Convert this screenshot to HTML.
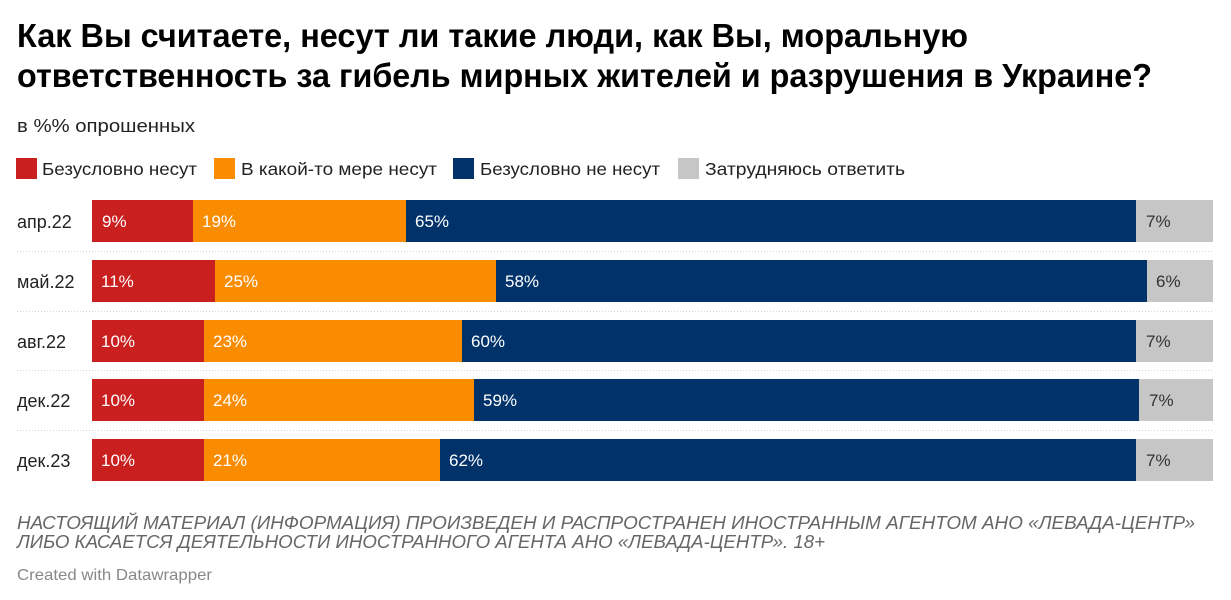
<!DOCTYPE html>
<html><head><meta charset="utf-8"><style>
html,body{margin:0;padding:0;background:#fff;}
svg{display:block;}
text{font-family:"Liberation Sans","Noto Sans CJK SC",sans-serif;}
</style></head><body>
<svg width="1231" height="600" viewBox="0 0 1231 600" xmlns="http://www.w3.org/2000/svg">
<rect width="1231" height="600" fill="#fff"/>
<text x="17" y="47" font-size="33" font-weight="bold" fill="#000" textLength="951" lengthAdjust="spacingAndGlyphs">Как Вы считаете, несут ли такие люди, как Вы, моральную</text>
<text x="17" y="87" font-size="33" font-weight="bold" fill="#000" textLength="1135" lengthAdjust="spacingAndGlyphs">ответственность за гибель мирных жителей и разрушения в Украине?</text>
<text x="17" y="132" font-size="18" fill="#222" textLength="178" lengthAdjust="spacingAndGlyphs">в %% опрошенных</text>

<rect x="16" y="158" width="21" height="21" fill="#c91f1f"/>
<text x="42" y="175" font-size="17.5" fill="#222" textLength="155" lengthAdjust="spacingAndGlyphs">Безусловно несут</text>
<rect x="214" y="158" width="21" height="21" fill="#f98c00"/>
<text x="241" y="175" font-size="17.5" fill="#222" textLength="196" lengthAdjust="spacingAndGlyphs">В какой-то мере несут</text>
<rect x="453" y="158" width="21" height="21" fill="#01336a"/>
<text x="480" y="175" font-size="17.5" fill="#222" textLength="180" lengthAdjust="spacingAndGlyphs">Безусловно не несут</text>
<rect x="678" y="158" width="21" height="21" fill="#c6c6c6"/>
<text x="705" y="175" font-size="17.5" fill="#222" textLength="200" lengthAdjust="spacingAndGlyphs">Затрудняюсь ответить</text>

<g stroke="#d6d6d6" stroke-width="1" stroke-dasharray="1,2">
<line x1="17" y1="251.5" x2="1213" y2="251.5"/>
<line x1="17" y1="311.5" x2="1213" y2="311.5"/>
<line x1="17" y1="370.5" x2="1213" y2="370.5"/>
<line x1="17" y1="430.5" x2="1213" y2="430.5"/>
</g>

<!-- Row 1 -->
<text x="17" y="228" font-size="18" fill="#222">апр.22</text>
<rect x="92" y="200" width="101" height="42" fill="#c91f1f"/>
<rect x="193" y="200" width="213" height="42" fill="#f98c00"/>
<rect x="406" y="200" width="730" height="42" fill="#01336a"/>
<rect x="1136" y="200" width="77" height="42" fill="#c6c6c6"/>
<g font-size="17" fill="#fff"><text x="102" y="227">9%</text><text x="202" y="227">19%</text><text x="415" y="227">65%</text></g>
<text x="1146" y="227" font-size="17" fill="#333">7%</text>

<!-- Row 2 -->
<text x="17" y="288" font-size="18" fill="#222">май.22</text>
<rect x="92" y="260" width="123" height="42" fill="#c91f1f"/>
<rect x="215" y="260" width="281" height="42" fill="#f98c00"/>
<rect x="496" y="260" width="651" height="42" fill="#01336a"/>
<rect x="1147" y="260" width="66" height="42" fill="#c6c6c6"/>
<g font-size="17" fill="#fff"><text x="101" y="287">11%</text><text x="224" y="287">25%</text><text x="505" y="287">58%</text></g>
<text x="1156" y="287" font-size="17" fill="#333">6%</text>

<!-- Row 3 -->
<text x="17" y="348" font-size="18" fill="#222">авг.22</text>
<rect x="92" y="320" width="112" height="42" fill="#c91f1f"/>
<rect x="204" y="320" width="258" height="42" fill="#f98c00"/>
<rect x="462" y="320" width="674" height="42" fill="#01336a"/>
<rect x="1136" y="320" width="77" height="42" fill="#c6c6c6"/>
<g font-size="17" fill="#fff"><text x="101" y="347">10%</text><text x="213" y="347">23%</text><text x="471" y="347">60%</text></g>
<text x="1146" y="347" font-size="17" fill="#333">7%</text>

<!-- Row 4 -->
<text x="17" y="407" font-size="18" fill="#222">дек.22</text>
<rect x="92" y="379" width="112" height="42" fill="#c91f1f"/>
<rect x="204" y="379" width="270" height="42" fill="#f98c00"/>
<rect x="474" y="379" width="665" height="42" fill="#01336a"/>
<rect x="1139" y="379" width="74" height="42" fill="#c6c6c6"/>
<g font-size="17" fill="#fff"><text x="101" y="406">10%</text><text x="213" y="406">24%</text><text x="483" y="406">59%</text></g>
<text x="1149" y="406" font-size="17" fill="#333">7%</text>

<!-- Row 5 -->
<text x="17" y="467" font-size="18" fill="#222">дек.23</text>
<rect x="92" y="439" width="112" height="42" fill="#c91f1f"/>
<rect x="204" y="439" width="236" height="42" fill="#f98c00"/>
<rect x="440" y="439" width="696" height="42" fill="#01336a"/>
<rect x="1136" y="439" width="77" height="42" fill="#c6c6c6"/>
<g font-size="17" fill="#fff"><text x="101" y="466">10%</text><text x="213" y="466">21%</text><text x="449" y="466">62%</text></g>
<text x="1146" y="466" font-size="17" fill="#333">7%</text>

<text x="17" y="529" font-size="18.5" font-style="italic" fill="#666" textLength="1178" lengthAdjust="spacingAndGlyphs">НАСТОЯЩИЙ МАТЕРИАЛ (ИНФОРМАЦИЯ) ПРОИЗВЕДЕН И РАСПРОСТРАНЕН ИНОСТРАННЫМ АГЕНТОМ АНО «ЛЕВАДА-ЦЕНТР»</text>
<text x="17" y="548" font-size="18.5" font-style="italic" fill="#666" textLength="808" lengthAdjust="spacingAndGlyphs">ЛИБО КАСАЕТСЯ ДЕЯТЕЛЬНОСТИ ИНОСТРАННОГО АГЕНТА АНО «ЛЕВАДА-ЦЕНТР». 18+</text>
<text x="17" y="580" font-size="16" fill="#888" textLength="195" lengthAdjust="spacingAndGlyphs">Created with Datawrapper</text>
</svg>
</body></html>
